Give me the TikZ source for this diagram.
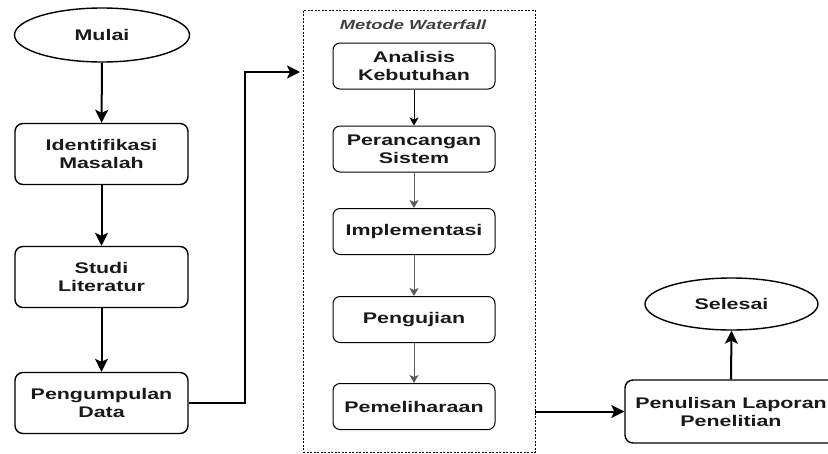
\documentclass[tikz,border=0pt]{standalone}
\usepackage{fontspec}
\setmainfont[FakeStretch=1.39]{Liberation Sans}
\usetikzlibrary{shapes.geometric,arrows.meta}

\tikzset{
  x=1pt, y=-1pt,
  every node/.style={font=\fontsize{15.4}{18}\selectfont\bfseries, text=black!90, align=center},
  terminal/.style={ellipse, draw, line width=1.4pt, minimum width=175pt, minimum height=54pt},
  stepbox/.style={rectangle, rounded corners=8pt, draw, line width=1.4pt, minimum width=173pt, minimum height=61pt},
  wfbox/.style={rectangle, rounded corners=7pt, draw, line width=1pt, minimum width=162pt, minimum height=46pt},
  mainarrow/.style={line width=2pt, -{Stealth[length=13pt, width=13pt, inset=3pt]}},
  wfarrow/.style={line width=1pt, -{Stealth[length=8pt, width=9pt, inset=2pt]}},
}

\begin{document}
\begin{tikzpicture}
\useasboundingbox (0,0) rectangle (828,453);

% main sequence on the left
\node[terminal] (mulai) at (102,35) {Mulai};
\node[stepbox] (ident) at (101.5,154) {Identifikasi\\Masalah};
\node[stepbox] (studi) at (101.5,277) {Studi\\Literatur};
\node[stepbox] (kumpul) at (101.5,403) {Pengumpulan\\Data};

\draw[mainarrow] (mulai) -- (ident);
\draw[mainarrow] (ident) -- (studi);
\draw[mainarrow] (studi) -- (kumpul);

% waterfall group
\node[draw, dashed, dash pattern=on 2pt off 1.5pt, line width=0.8pt, minimum width=232pt, minimum height=442pt] (wf) at (419,231) {};
\node[font=\fontsize{13.2}{15}\selectfont\bfseries\itshape, text=black!75] (wftitle) at (413,25) {Metode Waterfall};

\node[wfbox] (analisis) at (414,66) {Analisis\\Kebutuhan};
\node[wfbox] (rancang) at (414,149) {Perancangan\\Sistem};
\node[wfbox] (impl) at (414,231.5) {Implementasi};
\node[wfbox] (uji) at (414,319.5) {Pengujian};
\node[wfbox] (pelihara) at (414,406.5) {Pemeliharaan};

\draw[wfarrow] (analisis) -- (rancang);
\draw[wfarrow, draw=black!65] (rancang) -- (impl);
\draw[wfarrow, draw=black!65] (impl) -- (uji);
\draw[wfarrow, draw=black!65] (uji) -- (pelihara);

% link into the waterfall group
\coordinate (wfin) at (300,72);
\draw[mainarrow] (kumpul.east) -| (245,72) -- (wfin);

% closing steps on the right
\node[stepbox, minimum width=212pt, minimum height=63pt] (tulis) at (731,411.5) {Penulisan Laporan\\Penelitian};
\node[terminal, minimum width=173pt, minimum height=52pt] (selesai) at (731.5,304) {Selesai};

\draw[mainarrow] (wf.east |- tulis.west) -- (tulis.west);
\draw[mainarrow] (tulis.north) -- (selesai.south);
\end{tikzpicture}
\end{document}
